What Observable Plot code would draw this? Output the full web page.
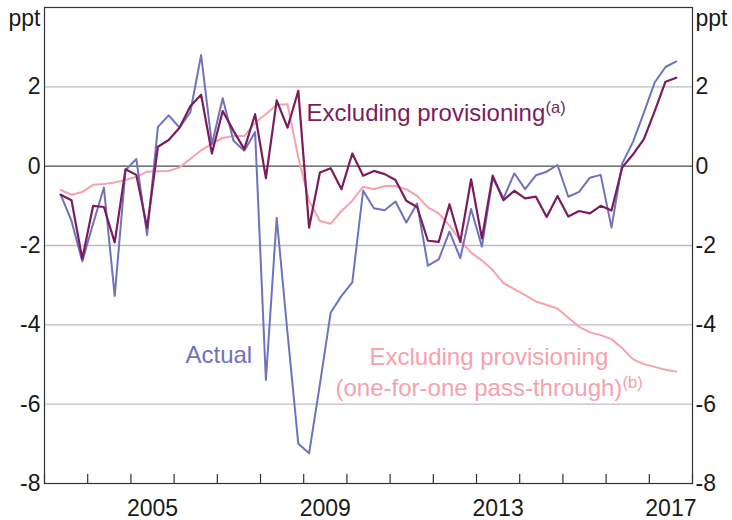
<!DOCTYPE html>
<html>
<head>
<meta charset="utf-8">
<script src="https://cdn.jsdelivr.net/npm/d3@7"></script>
<script src="https://cdn.jsdelivr.net/npm/@observablehq/plot@0.6"></script>
<style>
  body { margin: 0; background: #fff; }
</style>
</head>
<body>
<div id="chart"></div>
<script>
// ---- Data ----
const quarters = [
  "2003Q2","2003Q3","2003Q4",
  "2004Q1","2004Q2","2004Q3","2004Q4",
  "2005Q1","2005Q2","2005Q3","2005Q4",
  "2006Q1","2006Q2","2006Q3","2006Q4",
  "2007Q1","2007Q2","2007Q3","2007Q4",
  "2008Q1","2008Q2","2008Q3","2008Q4",
  "2009Q1","2009Q2","2009Q3","2009Q4",
  "2010Q1","2010Q2","2010Q3","2010Q4",
  "2011Q1","2011Q2","2011Q3","2011Q4",
  "2012Q1","2012Q2","2012Q3","2012Q4",
  "2013Q1","2013Q2","2013Q3","2013Q4",
  "2014Q1","2014Q2","2014Q3","2014Q4",
  "2015Q1","2015Q2","2015Q3","2015Q4",
  "2016Q1","2016Q2","2016Q3","2016Q4",
  "2017Q1","2017Q2","2017Q3"
];

const actual = [
  -0.72, -1.38, -2.40,
  -1.45, -0.54, -3.27, -0.10,
   0.18, -1.74,  0.99,  1.28,
   0.97,  1.36,  2.80,  0.55,
   1.71,  0.64,  0.39,  0.86,
  -5.39, -1.30, -4.20, -7.00,
  -7.24, -5.50, -3.69, -3.27,
  -2.93, -0.62, -1.06, -1.11,
  -0.89, -1.42, -0.94, -2.51,
  -2.35, -1.65, -2.32, -1.08,
  -2.03, -0.30, -0.81, -0.18,
  -0.58, -0.23, -0.14,  0.03,
  -0.77, -0.65, -0.29, -0.22,
  -1.55,  0.07,  0.62,  1.35,
   2.11,  2.50,  2.64
];

const excludingProvisioning = [
  -0.72, -0.86, -2.34,
  -1.00, -1.03, -1.92, -0.08,
  -0.22, -1.55,  0.49,  0.66,
   0.97,  1.51,  1.80,  0.32,
   1.39,  0.89,  0.43,  1.31,
  -0.30,  1.66,  0.97,  1.90,
  -1.55, -0.16, -0.05, -0.58,
   0.32, -0.24, -0.12, -0.20,
  -0.35, -0.87, -1.03, -1.88,
  -1.91, -0.96, -1.91, -0.33,
  -1.82, -0.24, -0.86, -0.62,
  -0.81, -0.77, -1.28, -0.75,
  -1.27, -1.13, -1.19, -1.00,
  -1.12, -0.03,  0.30,  0.68,
   1.39,  2.13,  2.23
];

const excludingProvisioningOneForOne = [
  -0.60, -0.72, -0.65,
  -0.47, -0.45, -0.41, -0.35,
  -0.27, -0.14, -0.13, -0.12,
  -0.03,  0.18,  0.40,  0.57,
   0.71,  0.76,  0.76,  1.10,
   1.31,  1.55,  1.56,  0.22,
  -0.87, -1.38, -1.45, -1.13,
  -0.87, -0.52, -0.58, -0.50,
  -0.50, -0.58, -0.75, -1.04,
  -1.19, -1.50, -1.88, -2.18,
  -2.38, -2.62, -2.95, -3.10,
  -3.25, -3.41, -3.50, -3.59,
  -3.82, -4.05, -4.19, -4.26,
  -4.36, -4.59, -4.87, -4.99,
  -5.06, -5.13, -5.18
];

const yTickValues = [-8, -6, -4, -2, 0, 2];
const gridValues = [-6, -4, -2, 2];
const yearBoundaries = [2003, 2004, 2005, 2006, 2007, 2008, 2009, 2010, 2011, 2012, 2013, 2014, 2015, 2016, 2017, 2018];
const yearLabels = [2005, 2009, 2013, 2017];

// ---- Build tables ----
function quarterToYear(q) {
  const [y, qq] = q.split("Q").map(Number);
  return y + (qq - 1) / 4 + 0.125; // mid-quarter
}
function table(values) {
  return quarters.map((q, i) => ({ t: quarterToYear(q), v: values[i] }));
}

const BLUE = "#6f72bd";
const PURPLE = "#7b1d5d";
const PINK = "#f7a1ae";
const FONT = "'Liberation Sans', Arial, Helvetica, sans-serif";

const chart = Plot.plot({
  width: 732,
  height: 520,
  marginLeft: 44,
  marginRight: 40,
  marginTop: 7,
  marginBottom: 37,
  x: { domain: [2003, 2018], axis: null },
  y: { domain: [-8, 4], axis: null },
  style: { fontFamily: FONT, fontSize: "23px", color: "#1a1a1a", background: "#fff" },
  marks: [
    Plot.ruleY(gridValues, { stroke: "#bdbdbd", strokeWidth: 1.3 }),
    Plot.ruleY([0], { stroke: "#4a4a4a", strokeWidth: 1.3 }),
    Plot.tickX(yearBoundaries, { x: d => d, stroke: "#333", strokeWidth: 1.2, insetTop: 467 }),
    Plot.lineY(table(excludingProvisioningOneForOne), { x: "t", y: "v", stroke: PINK, strokeWidth: 2 }),
    Plot.lineY(table(actual), { x: "t", y: "v", stroke: BLUE, strokeWidth: 2 }),
    Plot.lineY(table(excludingProvisioning), { x: "t", y: "v", stroke: PURPLE, strokeWidth: 2.2 }),
    Plot.frame({ stroke: "#333", strokeWidth: 1.2 }),
    Plot.axisY({ anchor: "left", ticks: yTickValues, tickSize: 0, tickPadding: 4, tickFormat: d => String(d), label: null, fontSize: 23 }),
    Plot.axisY({ anchor: "right", ticks: yTickValues, tickSize: 0, tickPadding: 3, tickFormat: d => String(d), label: null, fontSize: 23 }),
    Plot.axisX({ anchor: "bottom", ticks: yearLabels.map(y => y + 0.5), tickSize: 0, tickPadding: 16, tickFormat: d => String(Math.floor(d)), label: null, fontSize: 23 }),
    Plot.text(["ppt"], { text: d => d, frameAnchor: "top-left", textAnchor: "end", lineAnchor: "bottom", dx: -4, dy: 18, fontSize: 23 }),
    Plot.text(["ppt"], { text: d => d, frameAnchor: "top-right", textAnchor: "start", lineAnchor: "bottom", dx: 3, dy: 18, fontSize: 23 }),
    Plot.text(["Excluding provisioning"], { text: d => d, frameAnchor: "top-left", textAnchor: "start", lineAnchor: "bottom", dx: 262, dy: 113, fill: PURPLE, fontSize: 24 }),
    Plot.text(["(a)"], { text: d => d, frameAnchor: "top-left", textAnchor: "start", lineAnchor: "bottom", dx: 501, dy: 105, fill: PURPLE, fontSize: 16.5 }),
    Plot.text(["Actual"], { text: d => d, frameAnchor: "top-left", textAnchor: "start", lineAnchor: "bottom", dx: 141, dy: 355, fill: BLUE, fontSize: 24 }),
    Plot.text(["Excluding provisioning"], { text: d => d, frameAnchor: "top-left", textAnchor: "start", lineAnchor: "bottom", dx: 325, dy: 357, fill: PINK, fontSize: 24 }),
    Plot.text(["(one-for-one pass-through)"], { text: d => d, frameAnchor: "top-left", textAnchor: "start", lineAnchor: "bottom", dx: 291, dy: 388, fill: PINK, fontSize: 24 }),
    Plot.text(["(b)"], { text: d => d, frameAnchor: "top-left", textAnchor: "start", lineAnchor: "bottom", dx: 578, dy: 380, fill: PINK, fontSize: 16.5 })
  ]
});

document.getElementById("chart").appendChild(chart);
</script>
</body>
</html>
